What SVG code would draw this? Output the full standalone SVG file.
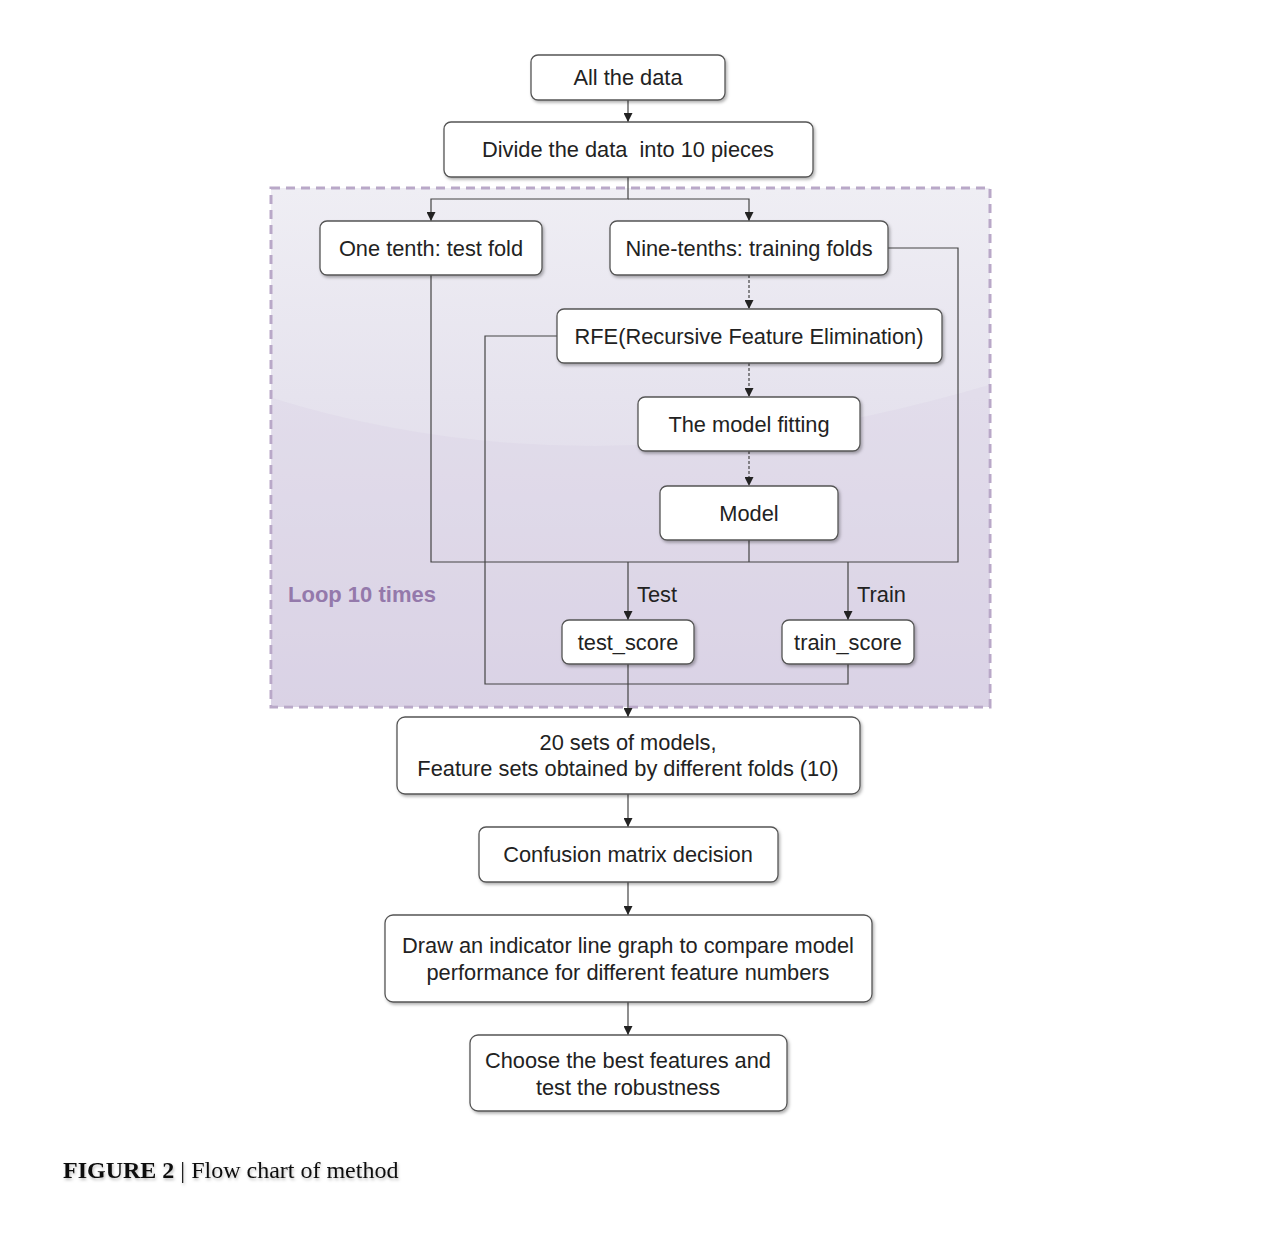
<svg xmlns="http://www.w3.org/2000/svg" width="1269" height="1258" viewBox="0 0 1269 1258">
<defs>
<style>
.box{fill:#fff;stroke:#555;stroke-width:1.3;filter:url(#sh)}
.t{font-family:"Liberation Sans",Arial,sans-serif;font-size:21.8px;fill:#222;text-anchor:middle}
.c{fill:none;stroke:#444;stroke-width:1.2}
.d{stroke-dasharray:3,2}
</style>
<filter id="sh" x="-10%" y="-20%" width="120%" height="150%">
<feDropShadow dx="1.5" dy="2" stdDeviation="1.5" flood-color="#000" flood-opacity="0.3"/>
</filter>
<filter id="tsh" x="-5%" y="-30%" width="110%" height="160%">
<feDropShadow dx="1" dy="2" stdDeviation="1.5" flood-color="#000" flood-opacity="0.25"/>
</filter>
<linearGradient id="bg" x1="0" y1="0" x2="0" y2="1">
<stop offset="0" stop-color="#efeef4"/>
<stop offset="0.4" stop-color="#e6e3ee"/>
<stop offset="1" stop-color="#dad3e5"/>
</linearGradient>
<marker id="a" viewBox="0 0 10 10" refX="10" refY="5" markerWidth="9" markerHeight="9" orient="auto" markerUnits="userSpaceOnUse">
<path d="M0,0 L10,5 L0,10 Z" fill="#222"/>
</marker>
</defs>
<rect width="1269" height="1258" fill="#fff"/>
<g id="loop">
<rect x="271" y="188" width="719" height="519" fill="url(#bg)" stroke="#b9a8c8" stroke-width="3" stroke-dasharray="9,6"/>
<path d="M272,398 Q600,500 989,385 L989,706 L272,706 Z" fill="#d9d2e4" opacity="0.35"/>
<text x="288" y="602" font-family="Liberation Sans,Arial,sans-serif" font-size="22" font-weight="bold" fill="#9479ab">Loop 10 times</text>
</g>
<g id="connectors">
<path class="c" d="M628,100 V122" marker-end="url(#a)"/>
<path class="c" d="M628,177 V199 H431 V221" marker-end="url(#a)"/>
<path class="c" d="M628,199 H749 V221" marker-end="url(#a)"/>
<path class="c d" d="M749,275 V309" marker-end="url(#a)"/>
<path class="c d" d="M749,363 V397" marker-end="url(#a)"/>
<path class="c d" d="M749,451 V486" marker-end="url(#a)"/>
<path class="c" d="M431,275 V562 H958 V248 H888"/>
<path class="c" d="M749,540 V562"/>
<path class="c" d="M628,562 V620" marker-end="url(#a)"/>
<path class="c" d="M848,562 V620" marker-end="url(#a)"/>
<path class="c" d="M557,336 H485 V684 H848 V664"/>
<path class="c" d="M628,664 V717" marker-end="url(#a)"/>
<path class="c" d="M628,794 V827" marker-end="url(#a)"/>
<path class="c" d="M628,882 V915" marker-end="url(#a)"/>
<path class="c" d="M628,1002 V1035" marker-end="url(#a)"/>
<text x="637" y="602" font-family="Liberation Sans,Arial,sans-serif" font-size="21.8" fill="#222">Test</text>
<text x="857" y="602" font-family="Liberation Sans,Arial,sans-serif" font-size="21.8" fill="#222">Train</text>
</g>
<g id="n1"><rect class="box" x="531" y="55" width="194" height="45" rx="7"/><text class="t" x="628" y="85">All the data</text></g>
<g id="n2"><rect class="box" x="444" y="122" width="369" height="55" rx="7"/><text class="t" x="628" y="157" xml:space="preserve">Divide the data  into 10 pieces</text></g>
<g id="n3"><rect class="box" x="320" y="221" width="222" height="54" rx="7"/><text class="t" x="431" y="256">One tenth: test fold</text></g>
<g id="n4"><rect class="box" x="610" y="221" width="278" height="54" rx="7"/><text class="t" x="749" y="256">Nine-tenths: training folds</text></g>
<g id="n5"><rect class="box" x="557" y="309" width="385" height="54" rx="7"/><text class="t" x="749" y="344">RFE(Recursive Feature Elimination)</text></g>
<g id="n6"><rect class="box" x="638" y="397" width="222" height="54" rx="7"/><text class="t" x="749" y="432">The model fitting</text></g>
<g id="n7"><rect class="box" x="660" y="486" width="178" height="54" rx="7"/><text class="t" x="749" y="521">Model</text></g>
<g id="n8"><rect class="box" x="562" y="620" width="132" height="44" rx="7"/><text class="t" x="628" y="650">test_score</text></g>
<g id="n9"><rect class="box" x="782" y="620" width="132" height="44" rx="7"/><text class="t" x="848" y="650">train_score</text></g>
<g id="n10"><rect class="box" x="397" y="717" width="463" height="77" rx="8"/><text class="t" x="628" y="750">20 sets of models,</text><text class="t" x="628" y="776">Feature sets obtained by different folds (10)</text></g>
<g id="n11"><rect class="box" x="479" y="827" width="299" height="55" rx="7"/><text class="t" x="628" y="862">Confusion matrix decision</text></g>
<g id="n12"><rect class="box" x="385" y="915" width="487" height="87" rx="8"/><text class="t" x="628" y="953">Draw an indicator line graph to compare model</text><text class="t" x="628" y="980">performance for different feature numbers</text></g>
<g id="n13"><rect class="box" x="470" y="1035" width="317" height="76" rx="8"/><text class="t" x="628" y="1068">Choose the best features and</text><text class="t" x="628" y="1095">test the robustness</text></g>
<text x="63" y="1178" font-family="Liberation Serif,'Times New Roman',serif" font-size="24" fill="#111" filter="url(#tsh)"><tspan font-weight="bold">FIGURE 2</tspan> | Flow chart of method</text>
</svg>
